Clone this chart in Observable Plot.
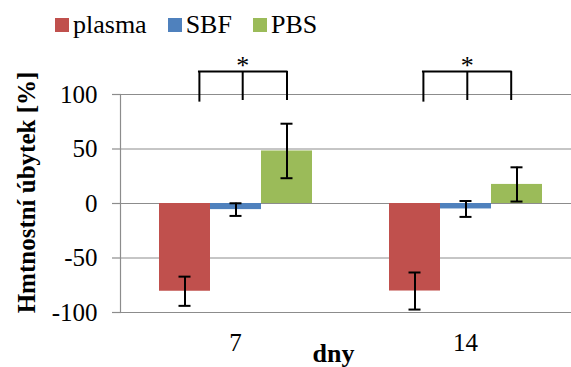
<!DOCTYPE html>
<html>
<head>
<meta charset="utf-8">
<script src="https://cdn.jsdelivr.net/npm/d3@7"></script>
<script src="https://cdn.jsdelivr.net/npm/@observablehq/plot@0.6"></script>
<style>
  html, body { margin: 0; padding: 0; background: #fff; overflow: hidden; width: 571px; height: 367px; }
  #legend { position: relative; height: 40px; box-sizing: border-box; padding-left: 55px; padding-top: 13px;
            display: flex; align-items: flex-start; font-family: "Liberation Serif", serif; font-size: 26px; color: #000; }
  .item { display: flex; align-items: flex-start; margin-right: 21px; line-height: 24px; white-space: nowrap; }
  .sw { width: 14px; height: 14px; margin-top: 4.5px; margin-right: 4px; }
  #chart svg { display: block; }
</style>
</head>
<body>
<div id="legend"></div>
<div id="chart"></div>
<script>
// ---- data ----
const days = ["7", "14"];
const series = ["plasma", "SBF", "PBS"];
const colors = ["#c0504d", "#4f81bd", "#9bbb59"];
const plasma = [-80.5, -80.3];
const plasmaErr = [13.4, 17];
const sbf = [-5.6, -5];
const sbfErr = [5.8, 7.3];
const pbs = [48.2, 17.5];
const pbsErr = [25, 15.7];
const yTicks = [-100, -50, 0, 50, 100];
const yLabel = "Hmtnostní úbytek [%]";
const xLabel = "dny";
const significance = ["*", "*"];
const bracketTop = 121;
const legBottom = [93, 94.5, 94.5];
const starY = 126;

// ---- table built from the arrays ----
const values = [plasma, sbf, pbs];
const errs = [plasmaErr, sbfErr, pbsErr];
const rows = [];
days.forEach((day, i) => series.forEach((s, j) => rows.push({day, series: s, value: values[j][i], err: errs[j][i]})));

// ---- legend ----
const legend = document.getElementById("legend");
series.forEach((s, j) => {
  const it = document.createElement("div");
  it.className = "item";
  it.innerHTML = `<div class="sw" style="background:${colors[j]}"></div><span>${s}</span>`;
  legend.appendChild(it);
});

// bracket leg horizontal offsets (style), per day
const legDx = [[14.4, 6.7, 0], [8.4, 1.3, -5.8]];
const half = 25.55;
function bracket(i) {
  const marks = [];
  series.forEach((s, j) => {
    marks.push(Plot.ruleX([{day: days[i], series: s, y1: bracketTop, y2: legBottom[j]}],
      {fx: "day", x: "series", y1: "y1", y2: "y2", dx: legDx[i][j], stroke: "black", strokeWidth: 2}));
  });
  marks.push(Plot.ruleY([{day: days[i], x1: series[0], x2: series[2], y: bracketTop}],
    {fx: "day", x1: "x1", x2: "x2", y: "y", insetLeft: half + legDx[i][0] - 1, insetRight: half - legDx[i][2] - 1,
     stroke: "black", strokeWidth: 2}));
  marks.push(Plot.text([{day: days[i], series: series[1], y: starY, t: significance[i]}],
    {fx: "day", x: "series", y: "y", text: "t", dx: legDx[i][1], fontSize: 26, fill: "black"}));
  return marks;
}

const gray = "#8c8c8c";
const chart = Plot.plot({
  width: 580,
  height: 327,
  marginLeft: 120,
  marginRight: 0,
  marginTop: 54,
  marginBottom: 55,
  style: {fontFamily: "Liberation Serif, serif", fontSize: "25px", color: "black", background: "white", overflow: "visible", maxWidth: "none"},
  fx: {domain: days, padding: 0},
  x: {domain: series, paddingInner: 0, paddingOuter: 0.75, axis: null},
  y: {domain: [-100, 100]},
  color: {domain: series, range: colors},
  marks: [
    Plot.gridY(yTicks, {stroke: gray, strokeOpacity: 1, strokeWidth: 1}),
    Plot.frame({anchor: "left", facetAnchor: "left", stroke: gray, strokeWidth: 1.2}),
    Plot.axisY({ticks: yTicks, tickSize: 8, tickPadding: 15, tickFormat: d => String(d), stroke: gray, strokeWidth: 1.2,
      fill: "black", label: null, fontSize: 25}),
    Plot.axisFx({anchor: "bottom", tickSize: 0, tickPadding: 21, label: null, fontSize: 25, fill: "black"}),
    Plot.barY(rows, {fx: "day", x: "series", y1: 0, y2: "value", fill: "series"}),
    Plot.ruleX(rows, {fx: "day", x: "series", y1: d => d.value - d.err, y2: d => d.value + d.err, stroke: "black", strokeWidth: 2}),
    Plot.tickY(rows, {fx: "day", x: "series", y: d => d.value - d.err, insetLeft: 19.5, insetRight: 19.5, stroke: "black", strokeWidth: 2}),
    Plot.tickY(rows, {fx: "day", x: "series", y: d => d.value + d.err, insetLeft: 19.5, insetRight: 19.5, stroke: "black", strokeWidth: 2}),
    ...bracket(0),
    ...bracket(1),
    Plot.text([{day: days[0], t: yLabel}], {fx: "day", text: "t", frameAnchor: "left", textAnchor: "middle", lineAnchor: "middle",
      rotate: -90, dx: -94, dy: -11, fontWeight: "bold", fontSize: 25, fill: "black"}),
    Plot.text([{day: days[0], t: xLabel}], {fx: "day", text: "t", frameAnchor: "bottom-right", textAnchor: "middle", lineAnchor: "middle",
      dx: -17, dy: 41, fontWeight: "bold", fontSize: 26, fill: "black"})
  ]
});
document.getElementById("chart").appendChild(chart);
</script>
</body>
</html>
